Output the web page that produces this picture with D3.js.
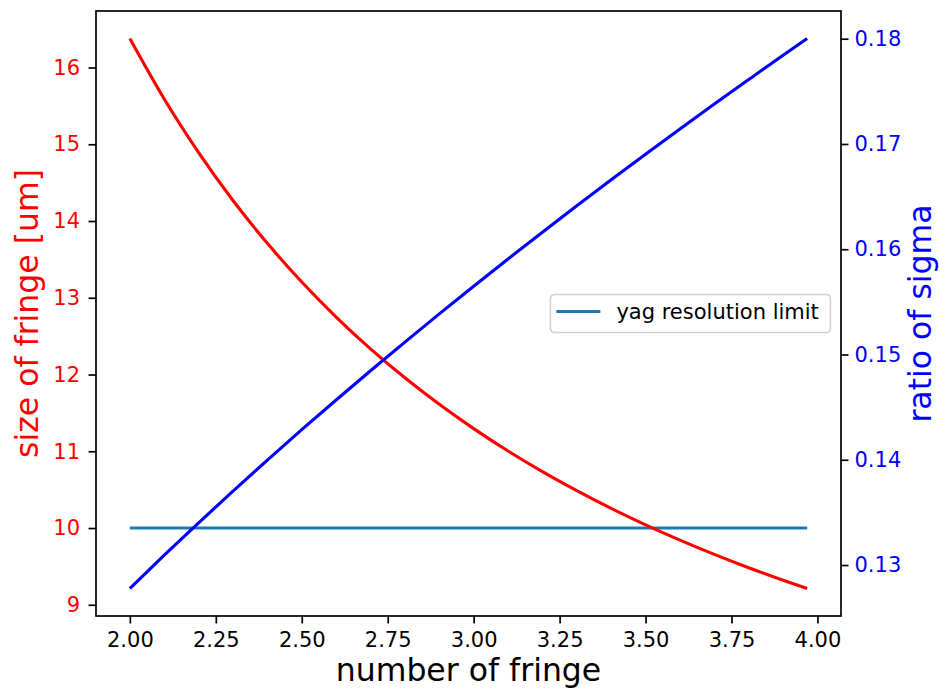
<!DOCTYPE html>
<html>
<head>
<meta charset="utf-8">
<script src="https://cdn.jsdelivr.net/npm/d3@7"></script>
<style>
  body { margin: 0; background: #fff; }
  text { font-family: "DejaVu Sans", sans-serif; }
</style>
</head>
<body>
<div id="chart"></div>
<script>
// number of fringe (x) and the two measured series
var fringeNumber = [2.0, 2.1, 2.2, 2.3, 2.4, 2.5, 2.6, 2.7, 2.8, 2.9, 3.0,
                    3.1, 3.2, 3.3, 3.4, 3.5, 3.6, 3.7, 3.8, 3.9, 3.97];
var fringeSize = [16.378, 15.59, 14.892, 14.268, 13.709, 13.205, 12.749, 12.334, 11.957, 11.612, 11.295,
                  11.003, 10.734, 10.486, 10.255, 10.041, 9.842, 9.656, 9.482, 9.319, 9.212];
var sigmaRatio = [0.12777, 0.13093, 0.13401, 0.13702, 0.13997, 0.14286, 0.14568, 0.14846, 0.15118, 0.15386, 0.15649,
                  0.15908, 0.16162, 0.16413, 0.16660, 0.16903, 0.17143, 0.17379, 0.17612, 0.17843, 0.18002];
var yagX = [2.0, 3.97];
var yagY = [10, 10];
var yagLabel = "yag resolution limit";

var xTicks = [2.0, 2.25, 2.5, 2.75, 3.0, 3.25, 3.5, 3.75, 4.0];
var leftTicks = [9, 10, 11, 12, 13, 14, 15, 16];
var rightTicks = [0.13, 0.14, 0.15, 0.16, 0.17, 0.18];

var margin = { top: 11, right: 99, bottom: 73, left: 96 },
    width = 940 - margin.left - margin.right,
    height = 689 - margin.top - margin.bottom;

// matplotlib style 5% padding around the data
function padded(vals) {
    var e = d3.extent(vals), p = (e[1] - e[0]) * 0.05;
    return [e[0] - p, e[1] + p];
}

var xScale = d3.scaleLinear().domain(padded(fringeNumber)).range([0, width]),
    yLeft = d3.scaleLinear().domain(padded(fringeSize)).range([height, 0]),
    yRight = d3.scaleLinear().domain(padded(sigmaRatio)).range([height, 0]);

var svg = d3.select("#chart").append("svg")
    .attr("width", 940)
    .attr("height", 689)
    .append("g")
    .attr("transform", "translate(" + margin.left + "," + margin.top + ")");

var line = function(ys, yScale, xs) {
    return d3.line()
        .curve(d3.curveMonotoneX)
        .x(function(d, i) { return xScale(xs[i]); })
        .y(function(d) { return yScale(d); })(ys);
};

// left axis lines
svg.append("path")
    .attr("d", line(yagY, yLeft, yagX))
    .attr("fill", "none").attr("stroke", "#1f77b4").attr("stroke-width", 3.1);
svg.append("path")
    .attr("d", line(fringeSize, yLeft, fringeNumber))
    .attr("fill", "none").attr("stroke", "#ff0000").attr("stroke-width", 3.1);

// right axis line
svg.append("path")
    .attr("d", line(sigmaRatio, yRight, fringeNumber))
    .attr("fill", "none").attr("stroke", "#0000ff").attr("stroke-width", 3.1);

// axes
var xAxis = d3.axisBottom(xScale).tickValues(xTicks).tickFormat(d3.format(".2f"))
        .tickSize(7.5).tickPadding(8.5).tickSizeOuter(0),
    leftAxis = d3.axisLeft(yLeft).tickValues(leftTicks).tickFormat(d3.format("d"))
        .tickSize(7.5).tickPadding(8.5).tickSizeOuter(0),
    rightAxis = d3.axisRight(yRight).tickValues(rightTicks).tickFormat(d3.format(".2f"))
        .tickSize(7.5).tickPadding(6).tickSizeOuter(0);

function styleAxis(g, color) {
    g.select(".domain").remove();
    g.selectAll(".tick line").attr("stroke", "#000").attr("stroke-width", 1.7);
    g.selectAll(".tick text").attr("fill", color)
        .style("font-size", "21px").style("font-family", "DejaVu Sans");
}

svg.append("g").attr("transform", "translate(0," + height + ")")
    .call(xAxis).call(styleAxis, "#000");
svg.append("g").call(leftAxis).call(styleAxis, "#ff0000");
svg.append("g").attr("transform", "translate(" + width + ",0)")
    .call(rightAxis).call(styleAxis, "#0000ff");

// frame
svg.append("rect")
    .attr("width", width).attr("height", height)
    .attr("fill", "none").attr("stroke", "#000").attr("stroke-width", 1.7);

// legend, center right
var lg = svg.append("g")
    .attr("transform", "translate(" + (width - 10.6 - 280) + "," + (height / 2 - 19) + ")");
lg.append("rect")
    .attr("width", 280).attr("height", 38).attr("rx", 4)
    .attr("fill", "#fff").attr("fill-opacity", 0.8)
    .attr("stroke", "#d0d0d0").attr("stroke-width", 1.6);
lg.append("line")
    .attr("x1", 6).attr("x2", 50).attr("y1", 17).attr("y2", 17)
    .attr("stroke", "#1f77b4").attr("stroke-width", 3.1);
lg.append("text")
    .attr("x", 66).attr("y", 24.5)
    .style("font-size", "21px").attr("fill", "#000")
    .text(yagLabel);

// axis titles
svg.append("text")
    .attr("x", width / 2).attr("y", height + 65)
    .style("text-anchor", "middle").style("font-size", "31.5px")
    .text("number of fringe");
svg.append("text")
    .attr("transform", "rotate(-90)")
    .attr("x", -height / 2).attr("y", -58)
    .style("text-anchor", "middle").style("font-size", "31.5px")
    .attr("fill", "#ff0000")
    .text("size of fringe [um]");
svg.append("text")
    .attr("transform", "rotate(-90)")
    .attr("x", -height / 2).attr("y", width + 90)
    .style("text-anchor", "middle").style("font-size", "31.5px")
    .attr("fill", "#0000ff")
    .text("ratio of sigma");
</script>
</body>
</html>
